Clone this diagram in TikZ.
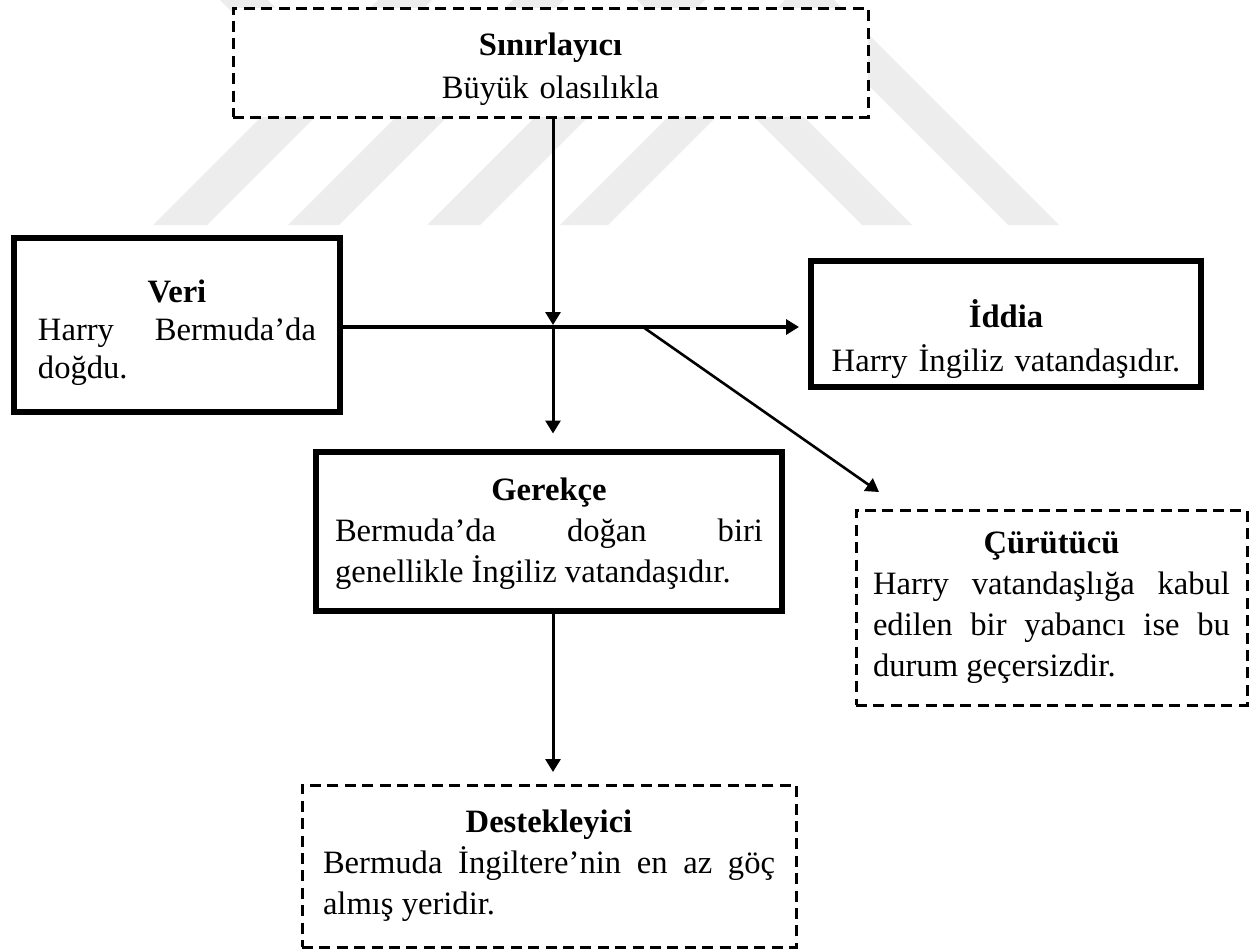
\documentclass[tikz,border=0pt]{standalone}
\usepackage{fontspec}
\setmainfont{Liberation Serif}
\usetikzlibrary{arrows.meta}
\setlength{\parindent}{0pt}
% invisible strut that lowers a text block inside its box
\newcommand{\lowerby}[1]{\rule{0pt}{#1}}
\begin{document}
\begin{tikzpicture}[x=0.5pt,y=-0.5pt,
  txt/.style={font=\fontsize{16.3}{20.5}\selectfont, inner sep=0pt, outer sep=0pt},
  boxbase/.style={txt, draw, fill=white, rectangle},
  thickbox/.style={boxbase, line width=3pt},
  dashbox/.style={boxbase, line width=1.5pt, dash pattern=on 5.5pt off 3.2pt},
  band/.style={fill=black!7, draw=none},
  tip/.style={-{Triangle[length=6.5pt,width=7.5pt]}},
  conn/.style={tip, line width=1.5pt},
]
\useasboundingbox (0,0) rectangle (1253,949);

% faint striped emblem in the background
\foreach \a/\b in {153/207, 288/339, 427/480, 560/608}
  \fill[band] (\a,225) -- (\b,225) -- (\b+225,0) -- (\a+225,0) -- cycle;
\foreach \a/\b in {862/912, 1008/1059}
  \fill[band] (\a,225) -- (\b,225) -- (\b-225,0) -- (\a-225,0) -- cycle;
\fill[band] (220,0) -- (268,0) -- (328,60) -- (280,60) -- cycle;

% boxes
\node[dashbox, minimum width=317.5pt, minimum height=54.5pt, text width=300pt, align=center]
  (sinir) at (550.5,62.5) {\lowerby{18pt}\textbf{Sınırlayıcı}\\[1pt]Büyük olasılıkla};

\node[thickbox, minimum width=163pt, minimum height=87pt, text width=139pt, align=justify,
  font=\fontsize{16.3}{19}\selectfont]
  (veri) at (177,325) {{\centering\bfseries\lowerby{19pt}Veri\par}Harry Bermuda’da\linebreak doğdu.};

\node[thickbox, minimum width=195pt, minimum height=63pt, text width=180pt, align=center]
  (iddia) at (1006,324) {\lowerby{29pt}\textbf{İddia}\\[1.5pt]Harry İngiliz vatandaşıdır.};

\node[thickbox, minimum width=233pt, minimum height=79.5pt, text width=214pt, align=justify]
  (gerekce) at (549,531) {{\centering\bfseries\lowerby{14pt}Gerekçe\par}Bermuda’da doğan biri\linebreak genellikle İngiliz vatandaşıdır.};

\node[dashbox, minimum width=195.5pt, minimum height=97.5pt, text width=178.5pt, align=justify]
  (curutucu) at (1051.5,607.5) {{\centering\bfseries Çürütücü\par}Harry vatandaşlığa kabul\linebreak edilen bir yabancı ise bu\linebreak durum geçersizdir.};

\node[dashbox, minimum width=247pt, minimum height=81pt, text width=226pt, align=justify]
  (destek) at (549,866) {{\centering\bfseries Destekleyici\par}Bermuda İngiltere’nin en az göç\linebreak almış yeridir.};

% junctions on the main line
\coordinate (j1) at (553,327);
\coordinate (j2) at (643,327);
\coordinate (ctip) at (879,492);

% connectors
\draw[line width=2pt, tip, shorten >=6pt] (veri.east |- j1) -- (iddia.west |- j1);
\draw[conn, shorten >=1pt] (sinir.south -| j1) -- (j1);
\draw[conn, shorten >=9pt] (j1) -- (gerekce.north -| j1);
\draw[conn, shorten >=6.5pt] (gerekce.south -| j1) -- (destek.north -| j1);
\draw[tip, line width=1.3pt] (j2) -- (ctip);
\end{tikzpicture}
\end{document}
